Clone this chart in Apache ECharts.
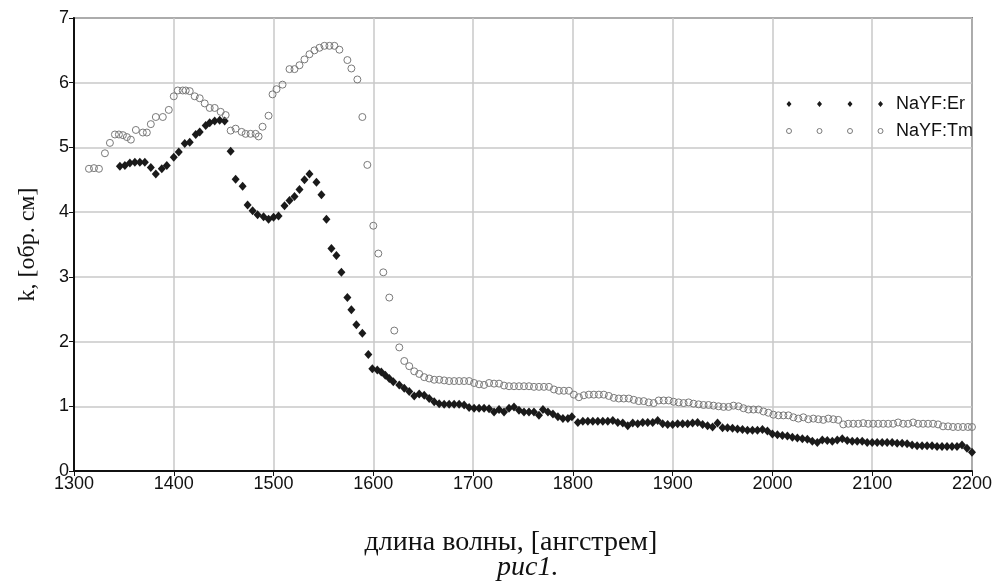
<!DOCTYPE html>
<html>
<head>
<meta charset="utf-8">
<script src="https://cdn.jsdelivr.net/npm/echarts@6/dist/echarts.min.js"></script>
<style>
  html, body { margin: 0; padding: 0; background: #fff; }
  #chart { width: 995px; height: 585px; }
</style>
</head>
<body>
<div id="chart"></div>
<script>
// Absorption coefficient k versus wavelength for two doped NaYF crystals.
const seriesNames = ['NaYF:Er', 'NaYF:Tm'];

const erWave = [
  1346, 1351, 1356, 1361, 1366, 1371, 1377, 1382, 1388, 1393,
  1400, 1405, 1411, 1416, 1422, 1426, 1432, 1436, 1441, 1446,
  1451, 1457, 1462, 1469, 1474, 1479, 1484, 1490, 1495, 1500,
  1505, 1511, 1516, 1521, 1526, 1531, 1536, 1543, 1548, 1553,
  1558, 1563, 1568, 1574, 1578, 1583, 1589, 1595, 1599, 1604,
  1608, 1612, 1616, 1620, 1626, 1631, 1636, 1641, 1646, 1651,
  1656, 1661, 1666, 1671, 1676, 1681, 1686, 1691, 1696, 1701,
  1706, 1711, 1716, 1721, 1726, 1731, 1736, 1741, 1746, 1751,
  1756, 1761, 1766, 1770, 1775, 1780, 1785, 1790, 1795, 1799,
  1805, 1810, 1815, 1820, 1825, 1830, 1835, 1840, 1845, 1850,
  1855, 1860, 1865, 1870, 1875, 1880, 1885, 1890, 1895, 1900,
  1905, 1910, 1915, 1920, 1925, 1930, 1935, 1940, 1945, 1950,
  1955, 1960, 1965, 1970, 1975, 1980, 1985, 1990, 1995, 2000,
  2005, 2010, 2015, 2020, 2025, 2030, 2035, 2040, 2045, 2050,
  2055, 2060, 2065, 2070, 2075, 2080, 2085, 2090, 2095, 2100,
  2105, 2110, 2115, 2120, 2125, 2130, 2135, 2140, 2145, 2150,
  2155, 2160, 2165, 2170, 2175, 2180, 2185, 2190, 2195, 2200
];
const erK = [
  4.71, 4.72, 4.76, 4.77, 4.77, 4.77, 4.69, 4.59, 4.67, 4.72,
  4.85, 4.93, 5.06, 5.08, 5.20, 5.24, 5.34, 5.38, 5.41, 5.42,
  5.41, 4.94, 4.51, 4.40, 4.11, 4.02, 3.96, 3.93, 3.89, 3.92,
  3.94, 4.10, 4.18, 4.24, 4.35, 4.50, 4.59, 4.46, 4.27, 3.89,
  3.44, 3.33, 3.07, 2.68, 2.49, 2.26, 2.13, 1.80, 1.58, 1.56,
  1.53, 1.48, 1.43, 1.38, 1.33, 1.28, 1.23, 1.16, 1.19, 1.17,
  1.12, 1.07, 1.04, 1.03, 1.03, 1.03, 1.03, 1.02, 0.98, 0.97,
  0.97, 0.97, 0.96, 0.91, 0.95, 0.91, 0.97, 0.99, 0.94, 0.91,
  0.91, 0.91, 0.86, 0.95, 0.91, 0.88, 0.84, 0.81, 0.81, 0.84,
  0.75, 0.77, 0.77, 0.77, 0.77, 0.77, 0.77, 0.78, 0.75, 0.74,
  0.70, 0.74, 0.73, 0.75, 0.75, 0.75, 0.78, 0.73, 0.72, 0.72,
  0.73, 0.73, 0.73, 0.74, 0.75, 0.72, 0.70, 0.68, 0.74, 0.67,
  0.67, 0.66, 0.65, 0.64, 0.63, 0.63, 0.63, 0.64, 0.62, 0.57,
  0.56, 0.55, 0.54, 0.52, 0.51, 0.50, 0.49, 0.46, 0.44, 0.48,
  0.47, 0.46, 0.48, 0.50, 0.47, 0.46, 0.46, 0.46, 0.44, 0.44,
  0.44, 0.44, 0.44, 0.44, 0.43, 0.43, 0.42, 0.40, 0.39, 0.39,
  0.39, 0.39, 0.38, 0.38, 0.38, 0.38, 0.38, 0.40, 0.35, 0.29
];

const tmWave = [
  1315, 1320, 1325, 1331, 1336, 1341, 1345, 1349, 1353, 1357,
  1362, 1369, 1373, 1377, 1382, 1389, 1395, 1400, 1404, 1409,
  1412, 1416, 1421, 1426, 1431, 1436, 1441, 1447, 1452, 1457,
  1462, 1468, 1472, 1477, 1482, 1485, 1489, 1495, 1499, 1503,
  1509, 1516, 1521, 1526, 1531, 1536, 1541, 1546, 1551, 1556,
  1561, 1566, 1574, 1578, 1584, 1589, 1594, 1600, 1605, 1610,
  1616, 1621, 1626, 1631, 1636, 1641, 1646, 1651, 1656, 1661,
  1666, 1671, 1676, 1681, 1686, 1691, 1696, 1701, 1706, 1711,
  1716, 1721, 1726, 1731, 1736, 1741, 1746, 1751, 1756, 1761,
  1766, 1771, 1776, 1781, 1786, 1791, 1796, 1801, 1806, 1811,
  1816, 1821, 1826, 1831, 1836, 1841, 1846, 1851, 1856, 1861,
  1866, 1871, 1876, 1881, 1886, 1891, 1896, 1901, 1906, 1911,
  1916, 1921, 1926, 1931, 1936, 1941, 1946, 1951, 1956, 1961,
  1966, 1971, 1976, 1981, 1986, 1991, 1996, 2001, 2006, 2011,
  2016, 2021, 2026, 2031, 2036, 2041, 2046, 2051, 2056, 2061,
  2066, 2071, 2076, 2081, 2086, 2091, 2096, 2101, 2106, 2111,
  2116, 2121, 2126, 2131, 2136, 2141, 2146, 2151, 2156, 2161,
  2166, 2171, 2176, 2181, 2186, 2191, 2196, 2200
];
const tmK = [
  4.67, 4.68, 4.67, 4.91, 5.07, 5.20, 5.20, 5.19, 5.16, 5.12,
  5.27, 5.23, 5.23, 5.36, 5.47, 5.47, 5.58, 5.79, 5.88, 5.88,
  5.88, 5.87, 5.79, 5.76, 5.68, 5.61, 5.61, 5.55, 5.50, 5.26,
  5.29, 5.24, 5.21, 5.21, 5.21, 5.17, 5.32, 5.49, 5.82, 5.90,
  5.97, 6.21, 6.21, 6.27, 6.36, 6.44, 6.50, 6.54, 6.57, 6.57,
  6.57, 6.51, 6.35, 6.22, 6.05, 5.47, 4.73, 3.79, 3.36, 3.07,
  2.68, 2.17, 1.91, 1.70, 1.62, 1.54, 1.50, 1.45, 1.43, 1.41,
  1.41, 1.40, 1.39, 1.39, 1.39, 1.39, 1.39, 1.36, 1.34, 1.33,
  1.36, 1.35, 1.35, 1.32, 1.31, 1.31, 1.31, 1.31, 1.31, 1.30,
  1.30, 1.30, 1.30, 1.26, 1.24, 1.24, 1.24, 1.18, 1.14, 1.17,
  1.18, 1.18, 1.18, 1.18, 1.16, 1.13, 1.12, 1.12, 1.12, 1.10,
  1.08, 1.08, 1.06, 1.05, 1.09, 1.09, 1.09, 1.07, 1.06, 1.05,
  1.06, 1.04, 1.03, 1.02, 1.02, 1.01, 1.00, 0.99, 0.99, 1.01,
  1.00, 0.97, 0.95, 0.95, 0.95, 0.92, 0.90, 0.87, 0.86, 0.86,
  0.86, 0.83, 0.81, 0.83, 0.80, 0.81, 0.80, 0.79, 0.81, 0.80,
  0.79, 0.72, 0.73, 0.73, 0.73, 0.74, 0.73, 0.73, 0.73, 0.73,
  0.73, 0.73, 0.75, 0.73, 0.73, 0.75, 0.73, 0.73, 0.73, 0.73,
  0.72, 0.69, 0.69, 0.68, 0.68, 0.68, 0.68, 0.68
];

const xTicks = { min: 1300, max: 2200, step: 100 };
const yTicks = { min: 0, max: 7, step: 1 };

const xTitle = 'длина волны, [ангстрем]';
const yTitle = 'k, [обр. см]';
const caption = 'рис1.';

const toPairs = (xs, ys) => xs.map((x, i) => [x, ys[i]]);

// Legend swatches: a row of four markers each
const erIcon = 'path://M2.5,0L5,3L2.5,6L0,3Z M33,0L35.5,3L33,6L30.5,3Z M63.5,0L66,3L63.5,6L61,3Z M94,0L96.5,3L94,6L91.5,3Z';
const tmIcon = 'path://M0,2.5A2.5,2.5 0 1 1 5,2.5A2.5,2.5 0 1 1 0,2.5Z M30.5,2.5A2.5,2.5 0 1 1 35.5,2.5A2.5,2.5 0 1 1 30.5,2.5Z M61,2.5A2.5,2.5 0 1 1 66,2.5A2.5,2.5 0 1 1 61,2.5Z M91.5,2.5A2.5,2.5 0 1 1 96.5,2.5A2.5,2.5 0 1 1 91.5,2.5Z';

const sans = '"Liberation Sans", Arial, sans-serif';
const serif = '"Liberation Serif", "Times New Roman", serif';

const chart = echarts.init(document.getElementById('chart'), null, { renderer: 'canvas' });

chart.setOption({
  backgroundColor: '#ffffff',
  animation: false,
  grid: {
    left: 74, right: 21, top: 18, bottom: 114,
    show: true, borderColor: '#222', borderWidth: 1.5, backgroundColor: 'transparent'
  },
  legend: {
    orient: 'vertical',
    left: 781, top: 90,
    itemWidth: 96.5, itemHeight: 6,
    itemGap: 9,
    textStyle: { fontFamily: sans, fontSize: 18, color: '#111', padding: [0, 0, 0, 8] },
    data: [
      { name: seriesNames[0], icon: erIcon, itemStyle: { color: '#1a1a1a', borderWidth: 0 } },
      { name: seriesNames[1], icon: tmIcon, itemStyle: { color: 'rgba(0,0,0,0)', borderColor: '#7a7a7a', borderWidth: 1 } }
    ]
  },
  xAxis: {
    type: 'value',
    min: xTicks.min, max: xTicks.max, interval: xTicks.step,
    name: xTitle,
    nameLocation: 'middle',
    nameGap: 58,
    nameTextStyle: { fontFamily: serif, fontSize: 28, color: '#111', padding: [0, 24, 0, 0] },
    axisLine: { show: true, lineStyle: { color: '#111', width: 2 } },
    axisTick: { show: true, length: 5, lineStyle: { color: '#111', width: 1 } },
    axisLabel: { fontFamily: sans, fontSize: 18, color: '#111', margin: 4, formatter: (v) => String(v) },
    splitLine: { show: true, lineStyle: { color: '#c8c8c8', width: 1.5 } }
  },
  yAxis: {
    type: 'value',
    min: yTicks.min, max: yTicks.max, interval: yTicks.step,
    name: yTitle,
    nameLocation: 'middle',
    nameGap: 34,
    nameRotate: 90,
    nameTextStyle: { fontFamily: serif, fontSize: 24, color: '#111' },
    axisLine: { show: true, lineStyle: { color: '#111', width: 2 } },
    axisTick: { show: true, length: 5, lineStyle: { color: '#111', width: 1 } },
    axisLabel: { fontFamily: sans, fontSize: 18, color: '#111', margin: 5, formatter: (v) => String(v) },
    splitLine: { show: true, lineStyle: { color: '#c8c8c8', width: 1.5 } }
  },
  series: [
    {
      name: seriesNames[0],
      type: 'scatter',
      symbol: 'diamond',
      symbolSize: [8, 9],
      itemStyle: { color: '#1a1a1a', opacity: 1 },
      data: toPairs(erWave, erK),
      z: 3
    },
    {
      name: seriesNames[1],
      type: 'scatter',
      symbol: 'circle',
      symbolSize: 7,
      itemStyle: { color: 'rgba(0,0,0,0)', borderColor: '#7a7a7a', borderWidth: 1, opacity: 1 },
      data: toPairs(tmWave, tmK),
      z: 4
    }
  ],
  graphic: [
    {
      type: 'text',
      left: 497,
      top: 554,
      style: {
        text: caption,
        font: 'italic 28px ' + serif,
        fill: '#111'
      }
    }
  ]
});
</script>
</body>
</html>
